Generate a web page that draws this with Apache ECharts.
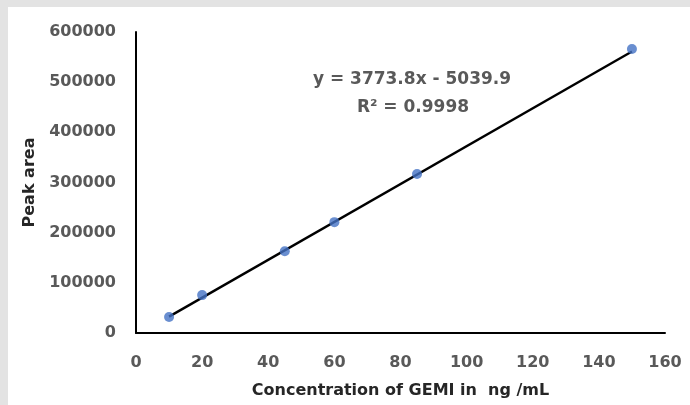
<!DOCTYPE html>
<html>
<head>
<meta charset="utf-8">
<script src="https://cdn.jsdelivr.net/npm/echarts@6/dist/echarts.min.js"></script>
<style>
html,body{margin:0;padding:0;background:#e3e3e3;}
#wrap{position:absolute;left:8px;top:7px;width:682px;height:398px;background:#ffffff;overflow:hidden;}
#chart{position:absolute;left:-8px;top:-7px;width:690px;height:405px;}
</style>
</head>
<body>
<div id="wrap"><div id="chart"></div></div>
<script>
// Data
const concentration = [10, 20, 45, 60, 85, 150];
const peakArea = [32000, 75500, 163000, 221000, 317000, 566000];
// Trendline endpoints (y = 3773.8x - 5039.9)
const trendX = [10, 150];
const trendY = [32698, 561030];
const equationText = 'y = 3773.8x - 5039.9';
const r2Text = 'R² = 0.9998';
const xTitle = 'Concentration of GEMI in  ng /mL';
const yTitle = 'Peak area';

const chart = echarts.init(document.getElementById('chart'), null, {renderer: 'canvas'});
const tickFont = {color: '#595959', fontFamily: 'DejaVu Sans', fontWeight: 'bold', fontSize: 16};
chart.setOption({
  backgroundColor: 'transparent',
  animation: false,
  grid: {left: 136, right: 25, top: 32, bottom: 72},
  xAxis: {
    type: 'value', min: 0, max: 160, interval: 20,
    axisLine: {show: true, onZero: false, lineStyle: {color: '#000', width: 2}},
    axisTick: {show: false},
    splitLine: {show: false},
    axisLabel: Object.assign({margin: 22, formatter: v => String(v)}, tickFont),
    name: xTitle, nameLocation: 'middle', nameGap: 50,
    nameTextStyle: {color: '#262626', fontFamily: 'DejaVu Sans', fontWeight: 'bold', fontSize: 16}
  },
  yAxis: {
    type: 'value', min: 0, max: 600000, interval: 100000,
    axisLine: {show: true, lineStyle: {color: '#000', width: 2}},
    axisTick: {show: false},
    splitLine: {show: false},
    axisLabel: Object.assign({margin: 20, formatter: v => String(v)}, tickFont),
    name: yTitle, nameLocation: 'middle', nameGap: 89, nameRotate: 90,
    nameTextStyle: {color: '#262626', fontFamily: 'DejaVu Sans', fontWeight: 'bold', fontSize: 16}
  },
  series: [
    {
      type: 'line',
      data: trendX.map((x, i) => [x, trendY[i]]),
      showSymbol: false,
      lineStyle: {color: '#000', width: 2.4},
      z: 2
    },
    {
      type: 'scatter',
      data: concentration.map((x, i) => [x, peakArea[i]]),
      symbolSize: 10,
      itemStyle: {color: '#4472c4'},
      z: 3
    }
  ],
  graphic: [
    {type: 'text', style: {text: equationText, x: 412, y: 80, align: 'center', verticalAlign: 'middle', fill: '#595959', font: 'bold 17px "DejaVu Sans"'}},
    {type: 'text', style: {text: r2Text, x: 413, y: 108, align: 'center', verticalAlign: 'middle', fill: '#595959', font: 'bold 17px "DejaVu Sans"'}}
  ]
});
</script>
</body>
</html>
